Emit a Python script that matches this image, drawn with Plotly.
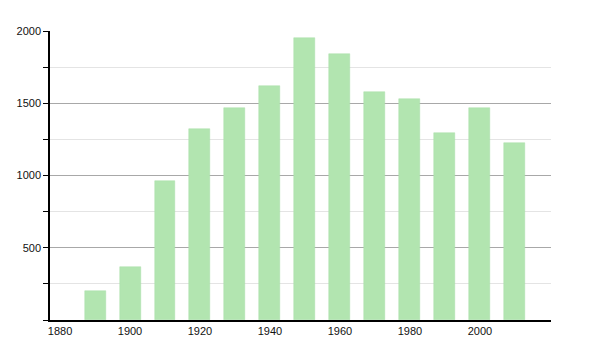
import plotly.graph_objects as go

years = [1890, 1900, 1910, 1920, 1930, 1940, 1950, 1960, 1970, 1980, 1990, 2000, 2010]
population = [201, 367, 962, 1322, 1467, 1619, 1952, 1841, 1578, 1529, 1294, 1467, 1225]
x_ticks = [1880, 1900, 1920, 1940, 1960, 1980, 2000]
y_ticks = [500, 1000, 1500, 2000]

fig = go.Figure(go.Bar(
    x=years, y=population, width=6,
    marker=dict(color="#b2e5b0", line=dict(color="#aadfa8", width=0.5)),
))

fig.update_layout(
    width=600, height=350,
    margin=dict(l=50, r=49, t=31, b=30),
    paper_bgcolor="white", plot_bgcolor="white",
    showlegend=False,
    font=dict(family="Liberation Sans, Arial", size=11, color="#111111"),
    bargap=0,
)
fig.update_xaxes(
    range=[1877.14, 2020.3], tickvals=x_ticks, ticktext=[str(t) for t in x_ticks],
    tickfont=dict(color="#111111"),
    showline=True, linecolor="black", linewidth=1.5, showgrid=False,
    ticks="", ticklen=0, zeroline=False,
)
fig.update_yaxes(
    range=[0, 2000], tickvals=y_ticks, ticktext=[str(t) for t in y_ticks],
    tickfont=dict(color="#111111"),
    showline=True, linecolor="black", linewidth=1.5,
    showgrid=True, gridcolor="#a8a8a8", gridwidth=1,
    ticks="outside", ticklen=5, tickcolor="black", zeroline=False,
    minor=dict(dtick=250, tick0=0, showgrid=True, gridcolor="#e4e4e4", ticks="outside", ticklen=5, tickcolor="black"),
)

fig.write_html("out.html")
